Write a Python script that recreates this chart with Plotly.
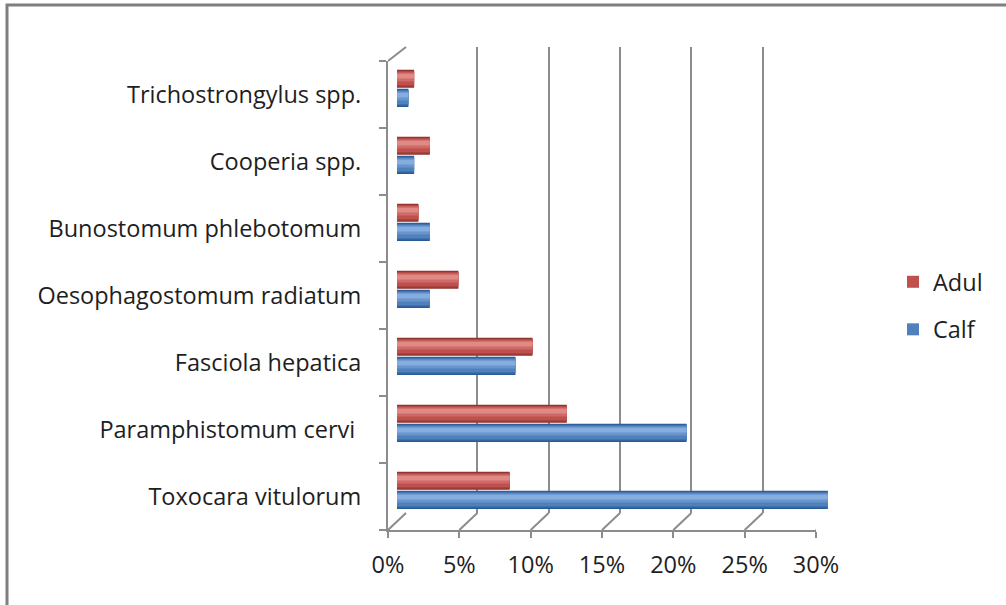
import plotly.graph_objects as go

# Parasite species (bottom to top) and prevalence by age group
species = [
    "Toxocara vitulorum",
    "Paramphistomum cervi ",
    "Fasciola hepatica",
    "Oesophagostomum radiatum",
    "Bunostomum phlebotomum",
    "Cooperia spp.",
    "Trichostrongylus spp.",
]
calf_pct = [30.2, 20.3, 8.3, 2.3, 2.3, 1.2, 0.8]
adul_pct = [7.9, 11.9, 9.5, 4.3, 1.5, 2.3, 1.2]
x_ticks = [0, 5, 10, 15, 20, 25, 30]

W, H = 1006, 605
FONT = "Open Sans"
FSIZE = 23.5
GRID = "#8c8c8c"
TEXT = "#1e1e1e"


def px(x):
    return x / W


def py(y):
    return 1 - y / H


def mix(c1, c2, t):
    a = [int(c1[i:i + 2], 16) for i in (1, 3, 5)]
    b = [int(c2[i:i + 2], 16) for i in (1, 3, 5)]
    return "#" + "".join(f"{round(x + (y - x) * t):02x}" for x, y in zip(a, b))


# pseudo-3D box: front plane, middle (bars) plane and back wall
FRONT = dict(l=388, r=816, t=61, b=530)
MID = dict(l=397, t=53, b=522)
BACK = dict(l=406, r=834, t=47, b=513)
XMAX = 0.30
PX_PER_UNIT = (FRONT["r"] - FRONT["l"]) / XMAX
BAR_XMAX = 0.32
DEPTH = (BACK["l"] - FRONT["l"]) / PX_PER_UNIT

series = [
    dict(name="Adul", vals=adul_pct, off=-0.02,
         dark="#8a302d", main="#c0504d", light="#e08a86"),
    dict(name="Calf", vals=calf_pct, off=-0.305,
         dark="#2a5a94", main="#4f81bd", light="#86addf"),
]
BW = 0.27

fig = go.Figure()

# invisible anchors so every subplot is laid out
fig.add_trace(go.Scatter(x=[0, XMAX], y=[0, 1], mode="markers",
                         marker=dict(opacity=0), showlegend=False,
                         hoverinfo="skip", xaxis="x", yaxis="y"))
fig.add_trace(go.Scatter(x=[0] * len(species), y=species, mode="markers",
                         marker=dict(opacity=0), showlegend=False,
                         hoverinfo="skip", xaxis="x2", yaxis="y2"))

# cylinder-like bars: nested bands shading from dark edges to a light crest
for s in series:
    xs = [v / 100 for v in s["vals"]]
    # (bottom fraction, top fraction, colour)
    bands = [
        (0.00, 1.00, s["dark"]),
        (0.08, 0.95, mix(s["dark"], s["main"], 0.6)),
        (0.16, 0.90, s["main"]),
        (0.35, 0.85, mix(s["main"], s["light"], 0.45)),
        (0.52, 0.78, s["light"]),
    ]
    for i, (lo, hi, color) in enumerate(bands):
        legend = i == 2
        fig.add_trace(go.Bar(
            x=xs, y=species, orientation="h", name=s["name"],
            offset=s["off"] + lo * BW, width=(hi - lo) * BW,
            marker=dict(color=color, line=dict(width=0)),
            showlegend=legend, legendgroup=s["name"],
            hoverinfo="x+y" if legend else "skip",
            xaxis="x3", yaxis="y3",
        ))

axis_off = dict(showgrid=False, zeroline=False, showline=False,
                showticklabels=False, ticks="", fixedrange=True)

# floor edges linking front ticks to back gridlines, and the top-left edge
shapes = []
for t in x_ticks:
    v = t / 100
    shapes.append(dict(type="line", xref="x2", yref="paper",
                       x0=v, x1=v + DEPTH, y0=py(FRONT["b"]), y1=py(BACK["b"]),
                       line=dict(color=GRID, width=2)))
shapes.append(dict(type="line", xref="x2", yref="paper",
                   x0=0, x1=DEPTH, y0=py(FRONT["t"]), y1=py(BACK["t"]),
                   line=dict(color=GRID, width=2)))
# chart frame
shapes.append(dict(type="rect", xref="paper", yref="paper",
                   x0=px(7), x1=1.2, y0=-0.2, y1=py(5),
                   line=dict(color="#7f7f7f", width=3), layer="below"))

fig.update_layout(
    width=W, height=H,
    margin=dict(l=0, r=0, t=0, b=0, pad=0, autoexpand=False),
    paper_bgcolor="white",
    plot_bgcolor="rgba(0,0,0,0)",
    font=dict(family=FONT, size=FSIZE, color=TEXT),
    barmode="overlay",
    showlegend=True,
    legend=dict(x=px(893), y=py(260), xanchor="left", yanchor="top",
                traceorder="grouped", tracegroupgap=14,
                font=dict(family=FONT, size=FSIZE, color=TEXT),
                bgcolor="rgba(0,0,0,0)", itemwidth=30),
    # back wall gridlines
    xaxis=dict(domain=[px(BACK["l"]), px(BACK["r"])], range=[0, XMAX],
               anchor="y", showgrid=True, gridcolor=GRID, gridwidth=2,
               tickvals=[t / 100 for t in x_ticks], zeroline=False,
               showline=False, showticklabels=False, ticks="",
               fixedrange=True),
    yaxis=dict(domain=[py(BACK["b"]), py(BACK["t"])], range=[0, 1],
               anchor="x", **axis_off),
    # front axes with labels
    xaxis2=dict(domain=[px(FRONT["l"]), px(FRONT["r"])], range=[0, XMAX],
                anchor="y2", showgrid=False, zeroline=False,
                showline=True, linecolor=GRID, linewidth=2,
                tickvals=[t / 100 for t in x_ticks],
                ticktext=[f"{t}%" for t in x_ticks],
                ticks="outside", ticklen=6, tickcolor=GRID, tickwidth=2,
                tickfont=dict(family=FONT, size=FSIZE, color=TEXT),
                ticklabelstandoff=7, fixedrange=True),
    yaxis2=dict(domain=[py(FRONT["b"]), py(FRONT["t"])], anchor="x2",
                type="category", categoryorder="array", categoryarray=species,
                range=[-0.5, len(species) - 0.5],
                showgrid=False, zeroline=False,
                showline=True, linecolor=GRID, linewidth=2,
                ticks="outside", tickson="boundaries", ticklen=7,
                tickcolor=GRID, tickwidth=2,
                tickfont=dict(family=FONT, size=FSIZE, color=TEXT),
                ticklabelstandoff=20, fixedrange=True),
    # bars plane
    xaxis3=dict(domain=[px(MID["l"]), px(MID["l"] + BAR_XMAX * PX_PER_UNIT)],
                range=[0, BAR_XMAX], anchor="y3", **axis_off),
    yaxis3=dict(domain=[py(MID["b"]), py(MID["t"])], anchor="x3",
                type="category", categoryorder="array", categoryarray=species,
                range=[-0.5, len(species) - 0.5], **axis_off),
    shapes=shapes,
)

fig.write_html("out.html")
